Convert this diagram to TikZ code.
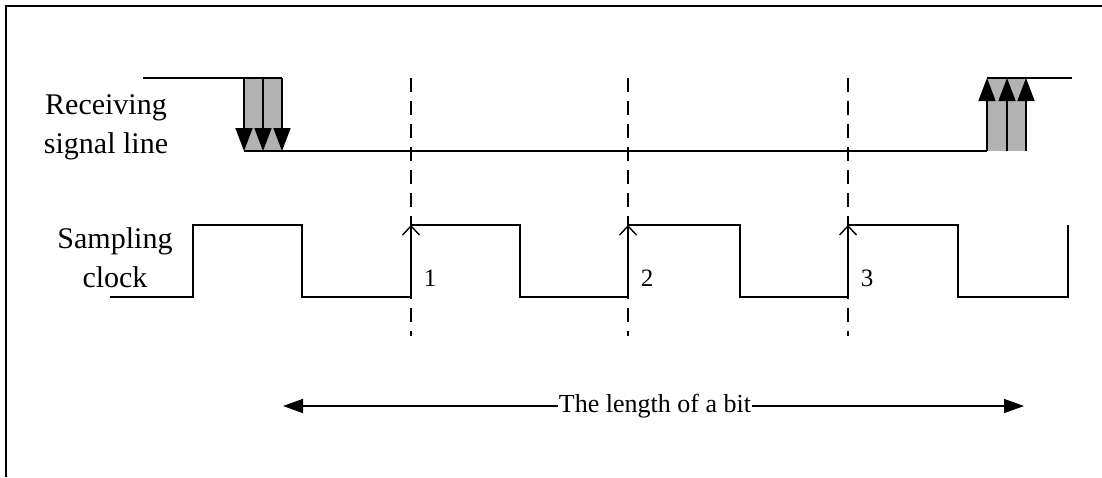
\documentclass[tikz,border=0pt]{standalone}
\usepackage{fontspec}
\setmainfont{Liberation Serif}
\usetikzlibrary{arrows.meta}

\tikzset{
  wave/.style={draw=black, line width=1.7pt, line join=miter},
  edgegroup/.style={fill=black!30, draw=none},
  edgearrow/.style={line width=1.7pt, -{Triangle[length=23pt, width=17pt]}},
  sampletick/.style={line width=1.6pt, -{Straight Barb[length=9pt, width=17pt, line width=1.4pt]}},
  guide/.style={line width=1.6pt, dash pattern=on 14pt off 9pt},
  sidelabel/.style={font=\fontsize{30}{39}\selectfont, align=center, inner sep=0pt},
  numlabel/.style={font=\fontsize{25}{28}\selectfont, inner sep=0pt},
  spanlabel/.style={font=\fontsize{26}{30}\selectfont, inner sep=1pt},
  spanarrow/.style={line width=1.6pt, -{Triangle[length=20pt, width=14pt]}}
}

\begin{document}
\begin{tikzpicture}[x=1pt, y=-1pt]
  \useasboundingbox (0,0) rectangle (1102,477);
  \draw[line width=1.6pt] (6,477) -- (6,6) -- (1102,6);

  % receiving signal line
  \fill[edgegroup] (244,78) rectangle (282,151);
  \fill[edgegroup] (987,78) rectangle (1026,151);
  \draw[wave] (143,78) -- (282,78);
  \draw[wave] (244,151) -- (987,151);
  \draw[wave] (987,78) -- (1072,78);
  \foreach \x in {244,263,282}
    \draw[edgearrow] (\x,78) -- (\x,151);
  \foreach \x in {987,1007,1026}
    \draw[edgearrow] (\x,151) -- (\x,78);

  \node[sidelabel] (rxlabel) at (106,127) {Receiving\\signal line};
  \node[sidelabel] (clklabel) at (115,258) {Sampling\\clock};

  % sampling clock
  \draw[wave] (110,297) -- (193,297) -- (193,225) -- (302,225) -- (302,297)
    -- (411,297) -- (411,225) -- (520,225) -- (520,297)
    -- (628,297) -- (628,225) -- (740,225) -- (740,297)
    -- (848,297) -- (848,225) -- (958,225) -- (958,297)
    -- (1068,297) -- (1068,225);
  \foreach \x/\n in {411/1,628/2,848/3} {
    \draw[guide] (\x,78) -- (\x,336);
    \draw[sampletick] (\x,297) -- (\x,225);
    \node[numlabel] (tick\n) at (\x+19,278) {\n};
  }

  % length of a bit
  \coordinate (bitL) at (283,406);
  \coordinate (bitR) at (1024,406);
  \node[spanlabel] (bitlen) at (655,406) {The length of a bit};
  \draw[spanarrow] (bitlen.west) -- (bitL);
  \draw[spanarrow] (bitlen.east) -- (bitR);
\end{tikzpicture}
\end{document}
